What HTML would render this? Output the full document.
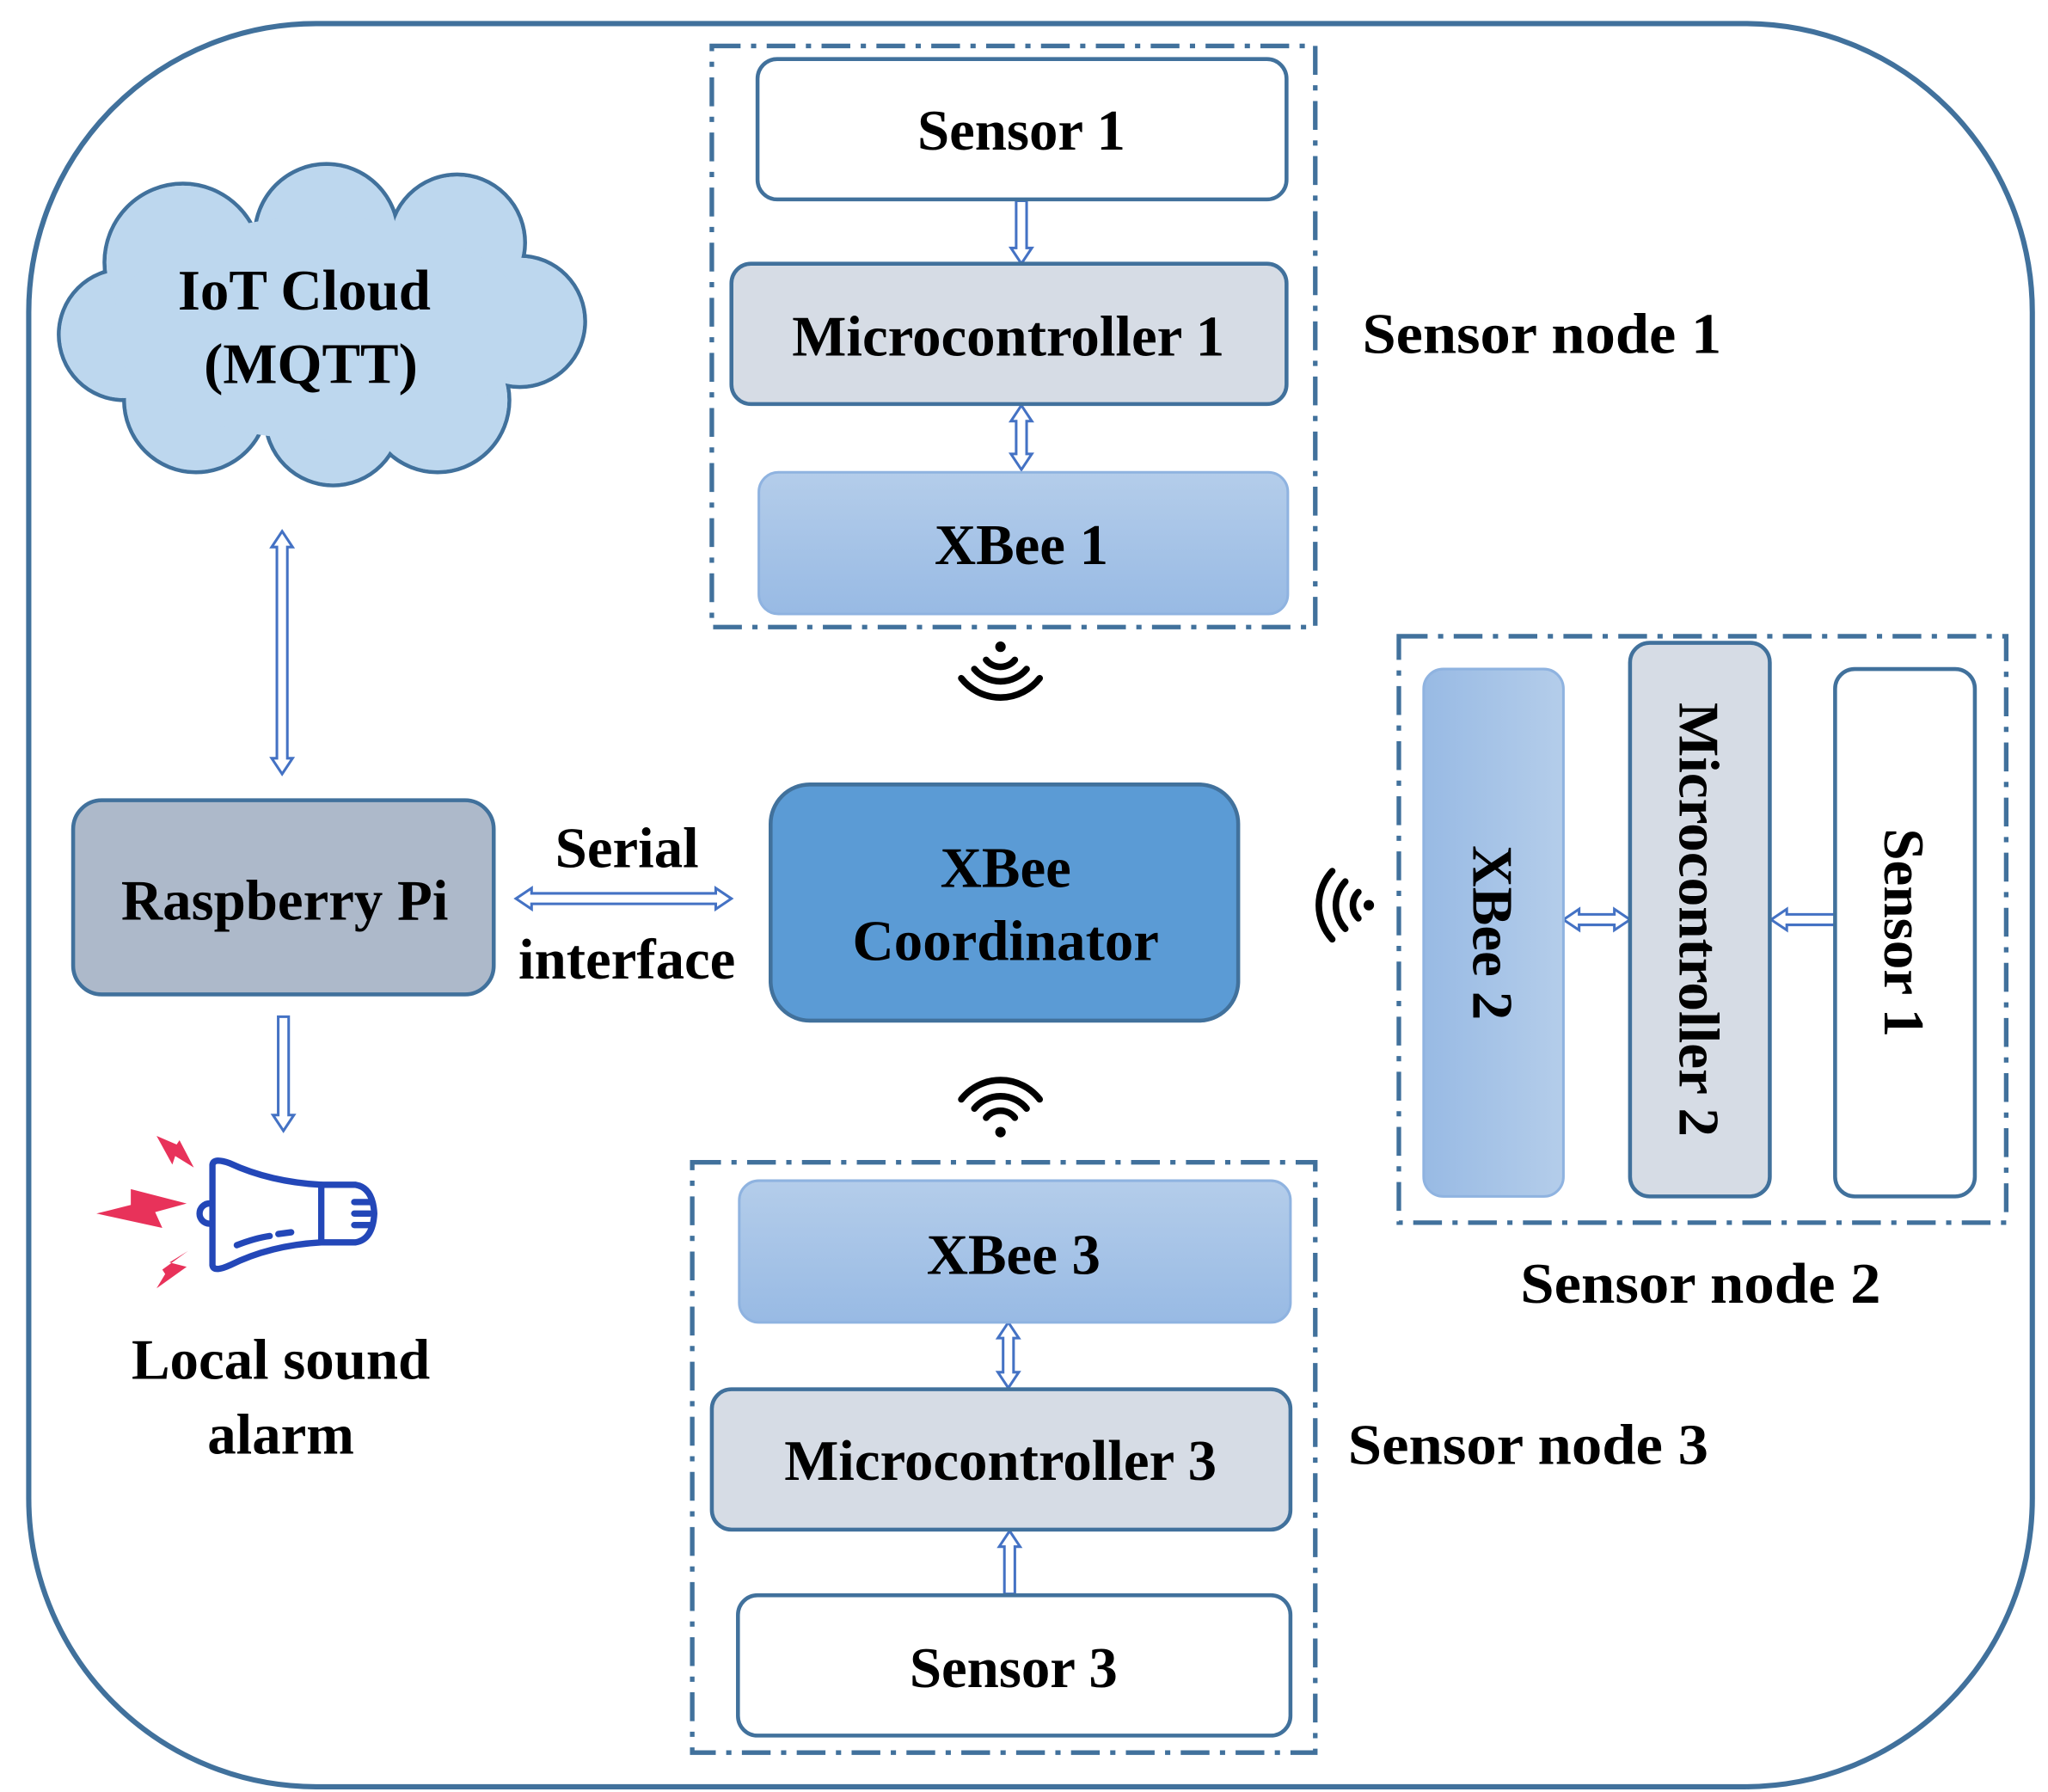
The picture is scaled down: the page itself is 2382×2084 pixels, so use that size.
<!DOCTYPE html>
<html><head><meta charset="utf-8"><style>
html,body{margin:0;padding:0;background:#fff;}
svg{display:block;}
text{font-family:"Liberation Serif",serif;font-weight:bold;fill:#000;text-anchor:middle;}
</style></head><body>
<svg width="2382" height="2084" viewBox="0 0 1568 1366" preserveAspectRatio="none" xmlns="http://www.w3.org/2000/svg">
<defs>
<linearGradient id="gv" x1="0" y1="0" x2="0" y2="1"><stop offset="0" stop-color="#b4cdea"/><stop offset="1" stop-color="#98bae4"/></linearGradient>
<linearGradient id="gh" x1="0" y1="0" x2="1" y2="0"><stop offset="0" stop-color="#98bae4"/><stop offset="1" stop-color="#b4cdea"/></linearGradient>
</defs>
<rect x="22" y="18" width="1534" height="1344" rx="220" fill="#fff" stroke="#41719c" stroke-width="4"/>

<g stroke="#41719c" stroke-width="3" fill="#bdd7ee">
<circle cx="95" cy="255" r="50"/><circle cx="140" cy="200" r="60"/><circle cx="250" cy="180" r="55"/><circle cx="350" cy="185" r="52"/><circle cx="398" cy="245" r="50"/><circle cx="335" cy="305" r="55"/><circle cx="255" cy="318" r="52"/><circle cx="150" cy="305" r="55"/>
</g>
<g fill="#bdd7ee">
<circle cx="95" cy="255" r="48.5"/><circle cx="140" cy="200" r="58.5"/><circle cx="250" cy="180" r="53.5"/><circle cx="350" cy="185" r="50.5"/><circle cx="398" cy="245" r="48.5"/><circle cx="335" cy="305" r="53.5"/><circle cx="255" cy="318" r="50.5"/><circle cx="150" cy="305" r="53.5"/>
<ellipse cx="245" cy="250" rx="160" ry="85"/>
</g>
<text x="233" y="236" font-size="44">IoT Cloud</text>
<text x="238" y="292" font-size="44">(MQTT)</text>

<g fill="#fff" stroke="#4472c4" stroke-width="2">
<polygon points="216,405 224,417 220,417 220,578 224,578 216,590 208,578 212,578 212,417 208,417"/>
<polygon points="213,775 221,775 221,850 225,850 217,862 209,850 213,850"/>
<polygon points="395,685 407,677 407,681 548,681 548,677 560,685 548,693 548,689 407,689 407,693"/>
<polygon points="778,153 786,153 786,189 790,189 782,201 774,189 778,189"/>
<polygon points="782,309 790,321 786,321 786,346 790,346 782,358 774,346 778,346 778,321 774,321"/>
<polygon points="1197,701 1209,693 1209,697 1236,697 1236,693 1248,701 1236,709 1236,705 1209,705 1209,709"/>
<polygon points="1356,701 1368,693 1368,697 1405,697 1405,705 1368,705 1368,709"/>
<polygon points="772,1008 780,1020 776,1020 776,1046 780,1046 772,1058 764,1046 768,1046 768,1020 764,1020"/>
<polygon points="773,1167 781,1179 777,1179 777,1215 769,1215 769,1179 765,1179"/>
</g>

<rect x="56" y="610" width="322" height="148" rx="22" fill="#adb9ca" stroke="#41719c" stroke-width="3"/>
<text x="218" y="701" font-size="44">Raspberry Pi</text>

<text x="480" y="661" font-size="44">Serial</text>
<text x="480" y="746" font-size="44">interface</text>

<rect x="590" y="598" width="358" height="180" rx="30" fill="#5b9bd5" stroke="#41719c" stroke-width="3"/>
<text x="770" y="676" font-size="44">XBee</text>
<text x="770" y="732" font-size="44">Coordinator</text>

<g transform="translate(53,822) scale(0.2193)">
<g fill="#e8325a">
<polygon points="95,470 215,440 215,385 410,435 300,465 325,520"/>
<polygon points="305,200 375,230 385,215 435,310 370,270 360,300"/>
<polygon points="415,600 350,640 410,655 305,730 335,680 325,665"/>
</g>
<g fill="none" stroke="#2347b8" stroke-width="22" stroke-linecap="round" stroke-linejoin="round">
<path d="M500,300 Q505,275 560,295 Q700,360 880,370 L1000,370 Q1060,380 1065,470 Q1060,560 1000,570 L880,570 Q700,580 560,650 Q505,675 500,650 Z"/>
<path d="M490,435 A35,35 0 0 0 490,505"/>
<path d="M880,370 L880,570"/>
<path d="M995,430 L1050,430 M995,470 L1050,470 M995,510 L1050,510"/>
<path d="M585,580 Q650,555 700,548 M730,541 L775,535"/>
</g>
</g>
<text x="215" y="1051" font-size="44">Local sound</text>
<text x="215" y="1108" font-size="44">alarm</text>

<rect x="545" y="35" width="462" height="443" fill="none" stroke="#41719c" stroke-width="3.5" stroke-dasharray="22 8 4 8"/>
<rect x="580" y="45" width="405" height="107" rx="15" fill="#fff" stroke="#41719c" stroke-width="3"/>
<text x="782" y="114" font-size="44">Sensor 1</text>
<rect x="560" y="201" width="425" height="107" rx="15" fill="#d6dce5" stroke="#41719c" stroke-width="3"/>
<text x="772" y="271" font-size="44">Microcontroller 1</text>
<rect x="581" y="360" width="405" height="108" rx="15" fill="url(#gv)" stroke="#8fb3e0" stroke-width="2"/>
<text x="782" y="430" font-size="44">XBee 1</text>
<text x="1043" y="269" font-size="44" style="text-anchor:start" textLength="275" lengthAdjust="spacingAndGlyphs">Sensor node 1</text>

<g fill="none" stroke="#000" stroke-width="5" stroke-linecap="round">
<path d="M755,503 A14,14 0 0 0 777,503"/>
<path d="M746,510 A26,26 0 0 0 786,510"/>
<path d="M736,517 A38,38 0 0 0 796,517"/>
<path d="M755,852 A14,14 0 0 1 777,852"/>
<path d="M746,845 A26,26 0 0 1 786,845"/>
<path d="M736,838 A38,38 0 0 1 796,838"/>
<path d="M1040,680 A14,14 0 0 0 1040,700"/>
<path d="M1030,672 A26,26 0 0 0 1030,708"/>
<path d="M1020,664 A38,38 0 0 0 1020,716"/>
</g>
<g fill="#000"><circle cx="766" cy="493" r="4"/><circle cx="766" cy="863" r="4"/><circle cx="1048" cy="690" r="4"/></g>

<rect x="1071" y="485" width="465" height="447" fill="none" stroke="#41719c" stroke-width="3.5" stroke-dasharray="22 8 4 8"/>
<rect x="1090" y="510" width="107" height="402" rx="15" fill="url(#gh)" stroke="#8fb3e0" stroke-width="2"/>
<text transform="translate(1128,711) rotate(90)" x="0" y="0" font-size="44">XBee 2</text>
<rect x="1248" y="490" width="107" height="422" rx="15" fill="#d6dce5" stroke="#41719c" stroke-width="3"/>
<text transform="translate(1286,701) rotate(90)" x="0" y="0" font-size="44">Microcontroller 2</text>
<rect x="1405" y="510" width="107" height="402" rx="15" fill="#fff" stroke="#41719c" stroke-width="3"/>
<text transform="translate(1443,711) rotate(90)" x="0" y="0" font-size="44">Sensor 1</text>
<text x="1302" y="993" font-size="44" textLength="276" lengthAdjust="spacingAndGlyphs">Sensor node 2</text>

<rect x="530" y="886" width="477" height="450" fill="none" stroke="#41719c" stroke-width="3.5" stroke-dasharray="22 8 4 8"/>
<rect x="566" y="900" width="422" height="108" rx="15" fill="url(#gv)" stroke="#8fb3e0" stroke-width="2"/>
<text x="776" y="971" font-size="44">XBee 3</text>
<rect x="545" y="1059" width="443" height="107" rx="15" fill="#d6dce5" stroke="#41719c" stroke-width="3"/>
<text x="766" y="1128" font-size="44">Microcontroller 3</text>
<rect x="565" y="1216" width="423" height="107" rx="15" fill="#fff" stroke="#41719c" stroke-width="3"/>
<text x="776" y="1286" font-size="44">Sensor 3</text>
<text x="1032" y="1116" font-size="44" style="text-anchor:start" textLength="276" lengthAdjust="spacingAndGlyphs">Sensor node 3</text>
</svg>
</body></html>
